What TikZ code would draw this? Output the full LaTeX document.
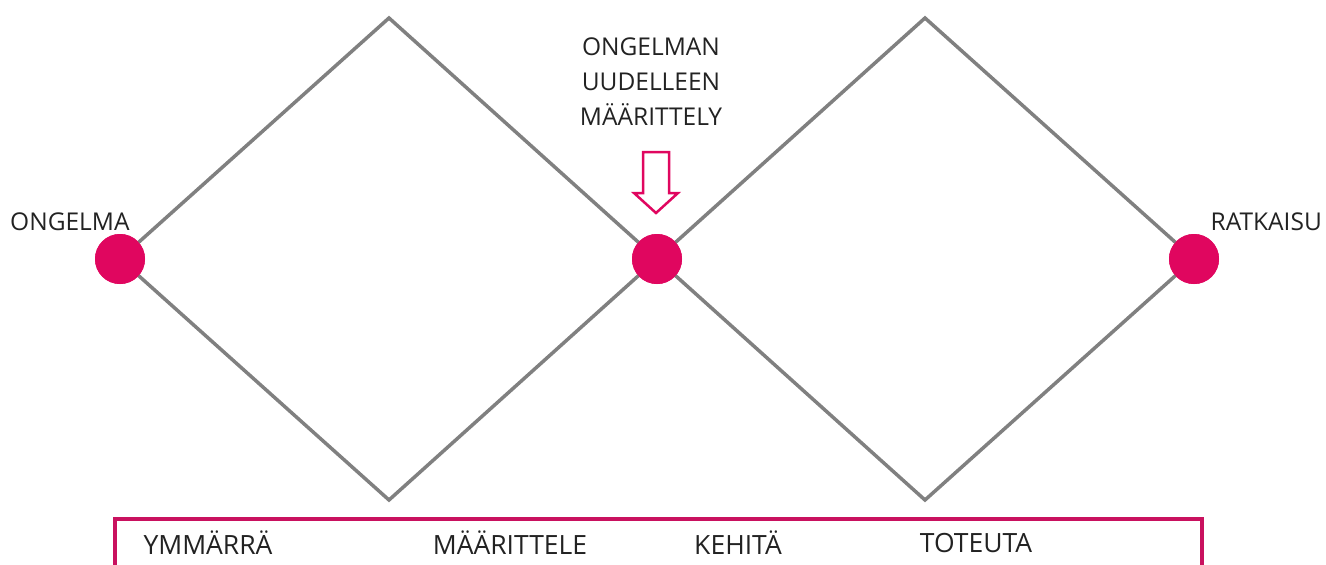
\documentclass[tikz,border=0pt]{standalone}
\usepackage{fontspec}
\setmainfont{Open Sans}
\definecolor{mag}{HTML}{E0065F}
\definecolor{boxmag}{HTML}{C9115F}
\definecolor{lgray}{HTML}{808080}
\definecolor{txt}{HTML}{222222}
\begin{document}
\begin{tikzpicture}[x=1pt,y=-1pt,
  dot/.style={circle,fill=mag,draw=none,minimum size=50pt,inner sep=0pt},
  edge/.style={draw=lgray,line width=3.5pt},
  lbl/.style={font=\fontsize{24.5}{35}\selectfont,text=txt,inner sep=0pt},
  blbl/.style={font=\fontsize{26.5}{35}\selectfont,text=txt,inner sep=0pt},
  hollow/.style={draw=mag,line width=2.5pt,fill=white,line join=miter}]
\useasboundingbox (0,0) rectangle (1326,565);
\coordinate (t1) at (389,18);
\coordinate (b1) at (389,500);
\coordinate (t2) at (925,18);
\coordinate (b2) at (925,500);
\node[dot] (d1) at (120,259) {};
\node[dot] (d2) at (657,259) {};
\node[dot] (d3) at (1194,259) {};
\draw[edge] (d1.center) -- (t1) -- (d2.center) -- (b1) -- cycle;
\draw[edge] (d2.center) -- (t2) -- (d3.center) -- (b2) -- cycle;
\node[dot] at (d1) {};
\node[dot] at (d2) {};
\node[dot] at (d3) {};
% labels
\node[lbl,anchor=west] (l1) at (10,222) {ONGELMA};
\node[lbl,anchor=east] (l3) at (1322,222) {RATKAISU};
\node[lbl,align=center,anchor=north] (l2) at (651,38) {ONGELMAN\\UUDELLEEN\\MÄÄRITTELY};
% hollow arrow
\draw[hollow] (643,152) -- (669,152) -- (669,193) -- (678,193) -- (656,213) -- (634,193) -- (643,193) -- cycle;
% bottom box
\draw[draw=boxmag,line width=4.5pt] (115,519) rectangle (1202,575);
\node[blbl] (s1) at (208,543) {YMMÄRRÄ};
\node[blbl] (s2) at (510,543) {MÄÄRITTELE};
\node[blbl] (s3) at (738,543) {KEHITÄ};
\node[blbl] (s4) at (976,543) {TOTEUTA};
\end{tikzpicture}
\end{document}
